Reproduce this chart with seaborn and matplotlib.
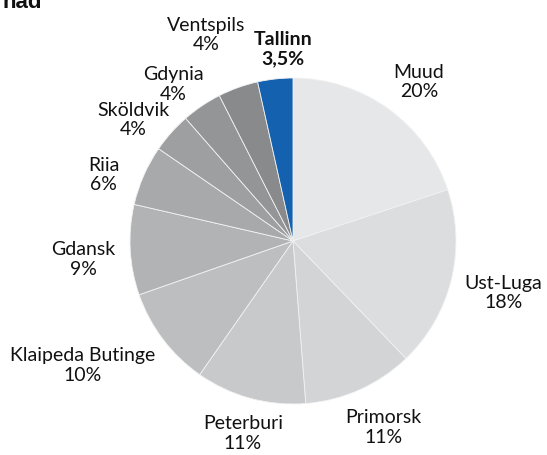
import numpy as np
import matplotlib
matplotlib.use("Agg")
import matplotlib.pyplot as plt
import seaborn as sns

# ---- data ----
ports = ["Muud", "Ust-Luga", "Primorsk", "Peterburi", "Klaipeda Butinge",
         "Gdansk", "Riia", "Sköldvik", "Gdynia", "Ventspils", "Tallinn"]
shares = [20, 18, 11, 11, 10, 9, 6, 4, 4, 4, 3.5]
share_labels = ["20%", "18%", "11%", "11%", "10%", "9%", "6%", "4%", "4%", "4%", "3,5%"]
title_fragment = "nad"

# ---- style ----
sns.set_theme(style="white")
plt.rcParams['font.family'] = ['Lato', 'DejaVu Sans']

colors = sns.color_palette(["#e6e7e8", "#dcdddf", "#d3d4d6", "#c8c9cb", "#bdbec0",
                            "#b1b3b5", "#a7a9ab", "#9d9fa1", "#939597", "#898a8c",
                            "#1461b0"])

# label placement (distance in radii, angle offset in degrees)
label_dist = [1.245, 1.33, 1.27, 1.22, 1.50, 1.29, 1.23, 1.23, 1.21, 1.37, 1.18]
label_dang = [-2.6, 0.0, 1.7, 0.6, -6.6, 1.9, 4.5, 4.5, 3.4, 3.1, -3.3]

W, H = 547, 455
cx, cy, R = 293, 241, 163
fig = plt.figure(figsize=(W / 100, H / 100), dpi=100)
ax = fig.add_axes([0, 0, 1, 1])

wedges, _ = ax.pie(shares, colors=colors, startangle=90, counterclock=False,
                   wedgeprops=dict(edgecolor="#f2f2f2", linewidth=0.6))

ax.set_xlim(-cx / R, (W - cx) / R)
ax.set_ylim(-(H - cy) / R, cy / R)
ax.set_aspect('auto')
ax.axis('off')

for i, w in enumerate(wedges):
    mid = np.deg2rad((w.theta1 + w.theta2) / 2 + label_dang[i])
    x = label_dist[i] * np.cos(mid)
    y = label_dist[i] * np.sin(mid)
    bold = ports[i] == "Tallinn"
    ax.text(x, y, f"{ports[i]}\n{share_labels[i]}", ha="center", va="center",
            fontsize=14, color="#111111", linespacing=1.18,
            fontweight="bold" if bold else "normal")

fig.text(42 / W, 1 - 7.5 / H, title_fragment, ha="right", va="baseline",
         fontsize=16, fontweight="bold", family=["Liberation Sans", "DejaVu Sans"],
         color="#111111")

fig.savefig("out.png", dpi=100, facecolor="white")
